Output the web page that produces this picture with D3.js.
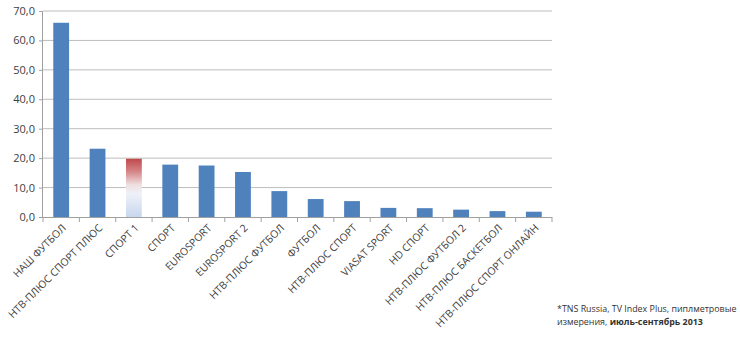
<!DOCTYPE html>
<html><head><meta charset="utf-8">
<script src="https://cdn.jsdelivr.net/npm/d3@7"></script>
<style>body{margin:0;background:#fff}svg{display:block}</style>
</head><body>
<svg id="c" width="740" height="338"></svg>
<script>
const categories = ["НАШ ФУТБОЛ","НТВ-ПЛЮС СПОРТ ПЛЮС","СПОРТ 1","СПОРТ","EUROSPORT","EUROSPORT 2","НТВ-ПЛЮС ФУТБОЛ","ФУТБОЛ","НТВ-ПЛЮС СПОРТ","VIASAT SPORT","HD СПОРТ","НТВ-ПЛЮС ФУТБОЛ 2","НТВ-ПЛЮС БАСКЕТБОЛ","НТВ-ПЛЮС СПОРТ ОНЛАЙН"];
const values = [66.0, 23.2, 19.8, 17.8, 17.5, 15.3, 8.8, 6.1, 5.4, 3.1, 3.0, 2.5, 2.0, 1.8];
const highlighted = ["СПОРТ 1"];
const yTicks = [0,10,20,30,40,50,60,70];
const footLine1 = "*TNS Russia, TV Index Plus, пиплметровые";
const footLine2a = "измерения, ";
const footLine2b = "июль-сентябрь 2013";

(function(){
const svg = d3.select("#c");
const mL = 43, mR = 552, mT = 11, mB = 217;
const x = d3.scaleBand().domain(categories).range([mL, mR]).paddingInner(0.565).paddingOuter(0.2825);
const xb = d3.scaleBand().domain(categories).range([mL, mR]);
const y = d3.scaleLinear().domain([0,70]).range([mB, mT]);

const defs = svg.append("defs");
const g = defs.append("linearGradient").attr("id","grad").attr("x1",0).attr("y1",0).attr("x2",0).attr("y2",1);
[[0,"#c0484a"],[0.22,"#d58587"],[0.45,"#efe0e0"],[0.6,"#eef1f8"],[1,"#c8d6ee"]].forEach(s=>g.append("stop").attr("offset",s[0]).attr("stop-color",s[1]));

svg.append("g").selectAll("line").data(yTicks.filter(d=>d>0)).join("line")
  .attr("x1",mL).attr("x2",mR).attr("y1",d=>y(d)).attr("y2",d=>y(d))
  .attr("stroke","#bdbdbd").attr("stroke-width",1);

const ya = svg.append("g").attr("transform",`translate(${mL},0)`)
  .call(d3.axisLeft(y).tickValues(yTicks).tickSize(4).tickPadding(4).tickFormat(d=>d3.format(".1f")(d).replace(".",",")));
ya.select(".domain").attr("stroke","#a0a0a0").attr("d",`M-0.5,${mT}V${mB}`);
ya.selectAll(".tick line").attr("stroke","#a0a0a0");
ya.selectAll("text").attr("fill","#404040").style("font-family","'Open Sans',sans-serif").style("font-size","11px");

svg.append("g").selectAll("rect").data(categories).join("rect")
  .attr("x",d=>x(d)).attr("width",x.bandwidth())
  .attr("y",(d,i)=>y(values[i])).attr("height",(d,i)=>y(0)-y(values[i]))
  .attr("fill",d=>highlighted.includes(d)?"url(#grad)":"#4f81bd");

const xa = svg.append("g").attr("transform",`translate(0,${mB})`);
xa.append("line").attr("x1",mL).attr("x2",mR).attr("y1",0.5).attr("y2",0.5).attr("stroke","#a0a0a0");
const bounds = categories.map(c=>xb(c)).concat([mR]);
xa.selectAll("line.t").data(bounds).join("line").attr("class","t")
  .attr("x1",d=>d).attr("x2",d=>d).attr("y1",0).attr("y2",5).attr("stroke","#a0a0a0");
xa.selectAll("text").data(categories).join("text")
  .attr("transform",d=>`translate(${x(d)+x.bandwidth()/2+3},9) rotate(-45)`)
  .attr("text-anchor","end").attr("dy","0.35em")
  .attr("fill","#404040").style("font-family","'Open Sans',sans-serif").style("font-size","10.4px")
  .text(d=>d);

const f = svg.append("text").attr("x",557).attr("y",312).attr("fill","#333").style("font-family","'Open Sans',sans-serif").style("font-size","8.9px");
f.append("tspan").attr("x",557).text(footLine1);
const l2 = f.append("tspan").attr("x",557).attr("dy",13);
l2.text(footLine2a);
f.append("tspan").style("font-weight","bold").text(footLine2b);
})();
</script>
</body></html>
